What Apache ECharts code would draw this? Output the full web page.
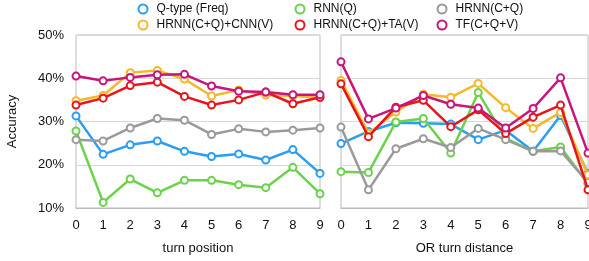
<!DOCTYPE html>
<html><head><meta charset="utf-8">
<script src="https://cdn.jsdelivr.net/npm/echarts@6/dist/echarts.min.js"></script>
<style>html,body{margin:0;padding:0;background:#fff}#c{width:589px;height:261px}</style>
</head><body><div id="c"></div>
<script>
var categories = ['0','1','2','3','4','5','6','7','8','9'];
var seriesNames = ['Q-type (Freq)','RNN(Q)','HRNN(C+Q)','HRNN(C+Q)+CNN(V)','HRNN(C+Q)+TA(V)','TF(C+Q+V)'];
var colors = ['#2a9df4','#6bd24b','#9a9a9a','#f4b82a','#e8141c','#c8157c'];
// turn position
var posQtype = [31.3,22.4,24.6,25.5,23.1,21.9,22.5,21.1,23.5,18.0];
var posRNN   = [27.8,11.3,16.7,13.5,16.4,16.4,15.4,14.7,19.4,13.3];
var posHRNN  = [25.8,25.5,28.5,30.7,30.3,27.0,28.3,27.6,28.0,28.5];
var posCNN   = [34.8,36.0,41.3,41.8,39.8,35.9,37.3,36.1,35.9,35.5];
var posTA    = [33.8,35.4,38.3,39.1,35.8,33.8,35.0,36.8,34.1,35.6];
var posTF    = [40.5,39.4,40.2,40.8,40.9,38.2,37.0,36.8,36.2,36.2];
// OR turn distance
var distQtype = [24.9,27.7,29.7,29.6,29.4,25.8,28.0,23.1,31.4,18.0];
var distRNN   = [18.4,18.2,29.9,30.7,22.7,36.7,26.1,23.1,24.1,15.6];
var distHRNN  = [28.7,14.2,23.7,26.0,24.0,28.4,25.8,23.1,23.2,15.9];
var distCNN   = [39.5,27.3,32.2,36.3,35.6,38.8,33.2,28.4,32.1,17.7];
var distTA    = [38.7,26.5,33.3,34.9,28.8,32.7,27.2,31.0,33.8,14.2];
var distTF    = [43.8,30.6,33.1,36.0,34.0,33.1,28.5,33.0,40.1,22.7];
var yTicks = [10,20,30,40,50];

var posData = [posQtype,posRNN,posHRNN,posCNN,posTA,posTF];
var distData = [distQtype,distRNN,distHRNN,distCNN,distTA,distTF];
var font = 'Liberation Sans, Arial, Helvetica, sans-serif';

var chart = echarts.init(document.getElementById('c'), null, {renderer:'canvas'});
var series = [];
function mk(name, data, idx, gi){
  return {name:name, type:'line', xAxisIndex:gi, yAxisIndex:gi, data:data,
    symbol:'emptyCircle', symbolSize:7, showAllSymbol:true,
    lineStyle:{width:2.5,color:colors[idx]},
    itemStyle:{color:colors[idx],borderColor:colors[idx],borderWidth:2},
    emphasis:{disabled:true}, animation:false, z:2+idx};
}
for (var i=0;i<6;i++){ series.push(mk(seriesNames[i], posData[i], i, 0)); }
for (var i=0;i<6;i++){ series.push(mk(seriesNames[i], distData[i], i, 1)); }

var legendPos = [[137.5,3],[294.5,3],[436.5,3],[137.5,19],[294.5,19],[436.5,19]];
var legends = seriesNames.map(function(n,i){
  return {data:[n], left:legendPos[i][0], top:legendPos[i][1], icon:'emptyCircle',
    padding:0, itemWidth:9, itemHeight:9, itemGap:5,
    itemStyle:{borderWidth:2},
    textStyle:{fontFamily:font,fontSize:12,color:'#111',padding:[0,0,0,4]}};
});

function xAxis(gi, name){
  return {type:'category', gridIndex:gi, data:categories, boundaryGap:false,
    name:name, nameLocation:'middle', nameGap:34,
    nameTextStyle:{fontFamily:font,fontSize:13,color:'#111'},
    axisLine:{show:true,lineStyle:{color:'#bbbbbb',width:1}}, axisTick:{show:false},
    axisLabel:{fontFamily:font,fontSize:13,color:'#111',margin:11}, splitLine:{show:false}};
}
function yAxis(gi, showLabel){
  return {type:'value', gridIndex:gi, min:yTicks[0], max:yTicks[yTicks.length-1], interval:10,
    name: showLabel ? 'Accuracy' : '', nameLocation:'middle', nameGap:57,
    nameTextStyle:{fontFamily:font,fontSize:13,color:'#111'},
    axisLine:{show:false}, axisTick:{show:false},
    axisLabel:{show:showLabel, fontFamily:font,fontSize:13,color:'#111',margin:12,
      formatter:function(v){return v+'%';}},
    splitLine:{show:true,lineStyle:{color:'#d8d8d8',width:1}}};
}

chart.setOption({
  animation:false,
  legend:legends,
  grid:[
    {left:76,right:269,top:35,bottom:53,show:true,borderColor:'#bbbbbb',borderWidth:1,backgroundColor:'transparent',outerBoundsMode:'none',containLabel:false},
    {left:341,right:1,top:35,bottom:53,show:true,borderColor:'#bbbbbb',borderWidth:1,backgroundColor:'transparent',outerBoundsMode:'none',containLabel:false}
  ],
  xAxis:[xAxis(0,'turn position'), xAxis(1,'OR turn distance')],
  yAxis:[yAxis(0,true), yAxis(1,false)],
  series:series
});
</script></body></html>
